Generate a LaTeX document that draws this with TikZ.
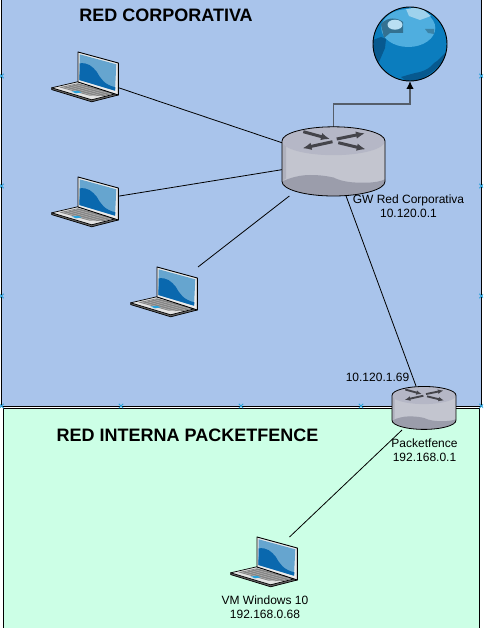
\documentclass[tikz,border=0pt]{standalone}
\usepackage{fontspec}
\setmainfont{Liberation Sans}
\usetikzlibrary{arrows.meta}

\definecolor{netblue}{HTML}{A9C4EB}
\definecolor{netgreen}{HTML}{CCFFE6}
\definecolor{markblue}{HTML}{29A3DC}
\definecolor{rtop}{HTML}{B5B7C6}
\definecolor{rmid}{HTML}{C3C5CF}
\definecolor{rlow}{HTML}{9B9DAB}
\definecolor{rarrow}{HTML}{44444A}
\definecolor{scrlight}{HTML}{66A5CF}
\definecolor{scrdark}{HTML}{0A68AE}
\definecolor{globemid}{HTML}{0B7DBE}
\definecolor{globelight}{HTML}{4FAEDF}
\definecolor{globedark}{HTML}{07598F}
\definecolor{uplink}{HTML}{555E6A}

\tikzset{
    device/.style={inner sep=0pt, outer sep=0pt},
    laptopbox/.style={device, minimum width=67pt, minimum height=50pt},
    link/.style={black, line width=0.8pt},
    netlabel/.style={font=\fontsize{12}{14}\selectfont, align=center, inner sep=0pt},
    nettitle/.style={font=\fontsize{18}{20}\selectfont\bfseries, inner sep=0pt},
    pics/linkmark/.style={code={
        \draw[markblue, line width=1pt] (-2.2,-2.2) -- (2.2,2.2) (-2.2,2.2) -- (2.2,-2.2);
    }},
    pics/laptop/.style={code={
        \begin{scope}[shift={(-7.5,-25)}]
            % base
            \filldraw[fill=black!60, line width=0.7pt, line join=round] (-26.3,35.8) -- (-26.3,37.6) -- (13.7,49.8) -- (40.3,43) -- (40.3,41) -- cycle;
            \filldraw[fill=black!11, line width=0.7pt, line join=round] (-26.3,35.8) -- (0,29.7) -- (40.3,41) -- (13.7,47.8) -- cycle;
            \fill[black!48] (-18.7,35.3) -- (0,31.3) -- (37,41.4) -- (26,44) -- (11,43.5) -- cycle;
            \foreach \k in {0,1,2,3} {
                \draw[black!22, line width=0.3pt] ({-15+\k*4},{35.2-\k*0.9}) -- ({19+\k*4.5},{44.6-\k*0.9});
            }
            \fill[markblue] (-6.3,39.5) -- (0,38.8) -- (3.7,40.4) -- (-2,41.3) -- cycle;
            % screen
            \filldraw[fill=black!8, line width=0.9pt, line join=round] (0,0) -- (40.3,11) -- (40.3,43) -- (0,30) -- cycle;
            \fill[scrlight] (1.7,2.3) -- (38.3,12.3) -- (37,38.7) -- (1.4,28) -- cycle;
            \fill[scrdark] (1.7,11.3) .. controls (10,10.5) and (14,14) .. (18.7,19.7) .. controls (23,27) and (26,32.5) .. (37.4,35.3) -- (37,38.7) -- (1.4,28) -- cycle;
        \end{scope}
    }},
    pics/router/.style={code={
        \begin{scope}[scale=#1]
            \fill[rmid] (-51.5,-20.5) -- (51.5,-20.5) -- (51.5,20) arc[start angle=0, end angle=180, x radius=51.5, y radius=14.5] -- cycle;
            \fill[rlow!50!rmid] (-51.5,-20.5) -- (-47.5,-16) -- (-47.5,17) -- (-51.5,20) -- cycle;
            \fill[rlow] (-51.5,20) .. controls (-43,16) and (-33,13.5) .. (-23.5,13.5) .. controls (-12,13.5) and (-5,15) .. (0,16) .. controls (8,20) and (18,21.5) .. (33,21.2) .. controls (41,21) and (47,20) .. (51.5,17.8) -- (51.5,20) arc[start angle=0, end angle=180, x radius=51.5, y radius=14.5] -- cycle;
            \fill[rtop] (0,-20.5) ellipse [x radius=51.5, y radius=14.2];
            \draw[black, line width=0.8pt] (-51.5,-20.5) arc[start angle=180, end angle=360, x radius=51.5, y radius=14.2] -- (51.5,20) arc[start angle=0, end angle=180, x radius=51.5, y radius=14.5] -- cycle;
            \foreach \ax/\ay/\bx/\by in {-30.2/-29.8/-3.5/-22.5, 3.2/-22.5/31.5/-28.2, -1/-19.8/-31/-13.2, 4.8/-18.8/32.2/-12.2} {
                \draw[rarrow, line width=#1*3pt, -{Latex[length=#1*9pt, width=#1*7.5pt]}] (\ax,\ay) -- (\bx,\by);
            }
        \end{scope}
    }},
    pics/worldglobe/.style={code={
        \fill[globemid] (0,0) circle (37);
        \begin{scope}
            \clip (0,0) circle (37);
            \fill[globelight] (-1.7,-16) ellipse [x radius=27, y radius=19];
            % land masses
            \fill[globedark] (-37,-4) -- (-29,-7) -- (-24,-5) -- (-25,4) -- (-31,18) -- (-37,18) -- cycle;
            \fill[globedark] (-9,33) .. controls (-2,31) and (4,29) .. (10,28) .. controls (16,26) and (20,24) .. (24,19) .. controls (28,17) and (32,12) .. (35,9) -- (37,30) -- (0,40) -- cycle;
            \fill[globemid] (8,38) .. controls (16,32) and (24,28) .. (30,21) -- (38,24) -- (20,40) -- cycle;
            \fill[black!35!globelight] (-29,-20) .. controls (-22,-28) and (-12,-26) .. (-7,-22) -- (-7,-11) -- (-20,-11) -- (-26,-6) -- cycle;
            \fill[white!60!globelight] (-15,-19.3) ellipse [x radius=7.5, y radius=5];
            \fill[white!45!globelight] (-4,-35) -- (10,-37) -- (21,-28) -- (10,-24) -- (-1,-28) -- cycle;
            \fill[black!25!globelight] (15,-15) -- (24,-15) -- (24,-10) -- (18,-11) -- cycle;
        \end{scope}
        \draw[black, line width=0.9pt] (0,0) circle (37);
    }}
}

\begin{document}
\begin{tikzpicture}[x=1pt, y=-1pt]
    \clip (0,0) rectangle (483,628);
    \fill[white] (0,0) rectangle (483,628);

    % the two networks
    \filldraw[fill=netblue, draw=black, line width=0.9pt] (1.5,-5) rectangle (481.5,406.5);
    \filldraw[fill=netgreen, draw=black, line width=0.9pt] (3.5,408.5) rectangle (479.5,640);

    \foreach \py in {76,186,296,406} {
        \pic at (1.5,\py) {linkmark};
        \pic at (481.5,\py) {linkmark};
    }
    \foreach \px in {121,241,361} {
        \pic at (\px,406) {linkmark};
    }

    \node[nettitle] (corptitle) at (166,15.5) {RED CORPORATIVA};
    \node[nettitle] (inttitle) at (187.5,435.5) {RED INTERNA PACKETFENCE};

    % equipment
    \node[laptopbox] (lapA) at (85.5,77) {};
    \node[laptopbox] (lapB) at (85.5,202) {};
    \node[laptopbox] (lapC) at (164.5,292) {};
    \node[laptopbox] (lapVM) at (264.5,562) {};
    \node[device, minimum width=103pt, minimum height=69pt] (gw) at (333.5,161.5) {};
    \node[device, minimum width=64pt, minimum height=44pt] (pf) at (424,408) {};
    \node[device, circle, minimum size=74pt] (globe) at (410,44) {};

    \draw[link] (lapA.-18) -- (gw.160);
    \draw[link] (lapB.10) -- (gw.189);
    \draw[link] (lapC.north east) -- (gw.218);
    \draw[link] (gw.-70) -- (pf.110);
    \draw[link] (pf.225) -- (lapVM.45);
    \draw[uplink, line width=1.3pt, -{Latex[black, length=8pt, width=7.5pt]}] (gw.north) -- ++(0,-23) -| (globe.south);

    \pic at (lapA) {laptop};
    \pic at (lapB) {laptop};
    \pic at (lapC) {laptop};
    \pic at (lapVM) {laptop};
    \pic at (gw) {router=1};
    \pic at (pf) {router=0.62};
    \pic at (globe) {worldglobe};

    \node[netlabel] (gwlabel) at (408.5,206.5) {GW Red Corporativa\\10.120.0.1};
    \node[netlabel] (wanlabel) at (377.5,377) {10.120.1.69};
    \node[netlabel] (pflabel) at (424.5,450) {Packetfence\\192.168.0.1};
    \node[netlabel] (vmlabel) at (265,607) {VM Windows 10\\192.168.0.68};
\end{tikzpicture}
\end{document}
